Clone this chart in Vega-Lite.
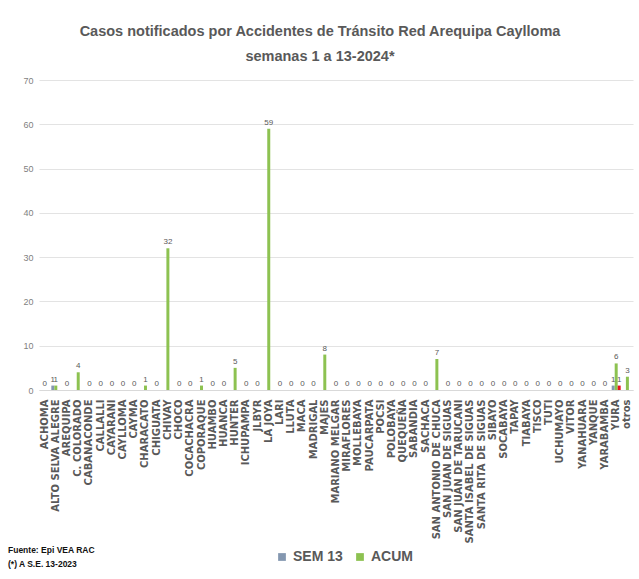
{
  "$schema": "https://vega.github.io/schema/vega-lite/v6.json",
  "description": "Casos notificados por Accidentes de Tránsito Red Arequipa Caylloma",
  "width": 594,
  "height": 310,
  "autosize": {"type": "none"},
  "padding": {"left": 39, "top": 80, "right": 6, "bottom": 189},
  "background": "white",
  "title": {
    "text": ["Casos notificados  por Accidentes de Tránsito Red Arequipa Caylloma", "semanas 1 a 13-2024*"],
    "anchor": "middle",
    "dx": -16,
    "offset": 12,
    "font": "Liberation Sans Narrow, Liberation Sans",
    "fontSize": 14.5,
    "fontWeight": "bold",
    "lineHeight": 25,
    "color": "#595959"
  },
  "data": {
    "values": [
      {"distrito": "ACHOMA", "SEM 13": 0, "ACUM": 0},
      {"distrito": "ALTO SELVA ALEGRE", "SEM 13": 1, "ACUM": 1},
      {"distrito": "AREQUIPA", "SEM 13": 0, "ACUM": 0},
      {"distrito": "C. COLORADO", "SEM 13": 0, "ACUM": 4},
      {"distrito": "CABANACONDE", "SEM 13": 0, "ACUM": 0},
      {"distrito": "CALLALLI", "SEM 13": 0, "ACUM": 0},
      {"distrito": "CAYARANI", "SEM 13": 0, "ACUM": 0},
      {"distrito": "CAYLLOMA", "SEM 13": 0, "ACUM": 0},
      {"distrito": "CAYMA", "SEM 13": 0, "ACUM": 0},
      {"distrito": "CHARACATO", "SEM 13": 0, "ACUM": 1},
      {"distrito": "CHIGUATA", "SEM 13": 0, "ACUM": 0},
      {"distrito": "CHIVAY", "SEM 13": 0, "ACUM": 32},
      {"distrito": "CHOCO", "SEM 13": 0, "ACUM": 0},
      {"distrito": "COCACHACRA", "SEM 13": 0, "ACUM": 0},
      {"distrito": "COPORAQUE", "SEM 13": 0, "ACUM": 1},
      {"distrito": "HUAMBO", "SEM 13": 0, "ACUM": 0},
      {"distrito": "HUANCA", "SEM 13": 0, "ACUM": 0},
      {"distrito": "HUNTER", "SEM 13": 0, "ACUM": 5},
      {"distrito": "ICHUPAMPA", "SEM 13": 0, "ACUM": 0},
      {"distrito": "JLBYR", "SEM 13": 0, "ACUM": 0},
      {"distrito": "LA JOYA", "SEM 13": 0, "ACUM": 59},
      {"distrito": "LARI", "SEM 13": 0, "ACUM": 0},
      {"distrito": "LLUTA", "SEM 13": 0, "ACUM": 0},
      {"distrito": "MACA", "SEM 13": 0, "ACUM": 0},
      {"distrito": "MADRIGAL", "SEM 13": 0, "ACUM": 0},
      {"distrito": "MAJES", "SEM 13": 0, "ACUM": 8},
      {"distrito": "MARIANO MELGAR", "SEM 13": 0, "ACUM": 0},
      {"distrito": "MIRAFLORES", "SEM 13": 0, "ACUM": 0},
      {"distrito": "MOLLEBAYA", "SEM 13": 0, "ACUM": 0},
      {"distrito": "PAUCARPATA", "SEM 13": 0, "ACUM": 0},
      {"distrito": "POCSI", "SEM 13": 0, "ACUM": 0},
      {"distrito": "POLOBAYA", "SEM 13": 0, "ACUM": 0},
      {"distrito": "QUEQUEÑA", "SEM 13": 0, "ACUM": 0},
      {"distrito": "SABANDIA", "SEM 13": 0, "ACUM": 0},
      {"distrito": "SACHACA", "SEM 13": 0, "ACUM": 0},
      {"distrito": "SAN ANTONIO DE CHUCA", "SEM 13": 0, "ACUM": 7},
      {"distrito": "SAN JUAN DE SIGUAS", "SEM 13": 0, "ACUM": 0},
      {"distrito": "SAN JUAN DE TARUCANI", "SEM 13": 0, "ACUM": 0},
      {"distrito": "SANTA ISABEL DE SIGUAS", "SEM 13": 0, "ACUM": 0},
      {"distrito": "SANTA RITA DE SIGUAS", "SEM 13": 0, "ACUM": 0},
      {"distrito": "SIBAYO", "SEM 13": 0, "ACUM": 0},
      {"distrito": "SOCABAYA", "SEM 13": 0, "ACUM": 0},
      {"distrito": "TAPAY", "SEM 13": 0, "ACUM": 0},
      {"distrito": "TIABAYA", "SEM 13": 0, "ACUM": 0},
      {"distrito": "TISCO", "SEM 13": 0, "ACUM": 0},
      {"distrito": "TUTI", "SEM 13": 0, "ACUM": 0},
      {"distrito": "UCHUMAYO", "SEM 13": 0, "ACUM": 0},
      {"distrito": "VITOR", "SEM 13": 0, "ACUM": 0},
      {"distrito": "YANAHUARA", "SEM 13": 0, "ACUM": 0},
      {"distrito": "YANQUE", "SEM 13": 0, "ACUM": 0},
      {"distrito": "YARABAMBA", "SEM 13": 0, "ACUM": 0},
      {"distrito": "YURA", "SEM 13": 1, "ACUM": 6, "OTRO": 1},
      {"distrito": "otros", "SEM 13": 0, "ACUM": 3}
    ]
  },
  "transform": [
    {"fold": ["SEM 13", "ACUM", "OTRO"], "as": ["serie", "casos"]},
    {"filter": "datum.casos != null"}
  ],
  "encoding": {
    "x": {
      "field": "distrito",
      "type": "nominal",
      "sort": null,
      "scale": {"paddingInner": 0.2, "paddingOuter": 0.1},
      "axis": {
        "title": null,
        "labelAngle": -90,
        "labelFont": "DejaVu Sans",
        "labelFontWeight": "bold",
        "labelFontSize": 10,
        "labelColor": "#595959",
        "labelPadding": 9,
        "ticks": false,
        "domainColor": "#d9d9d9",
        "labelOverlap": false
      }
    },
    "xOffset": {
      "field": "serie",
      "type": "nominal",
      "scale": {"domain": ["SEM 13", "ACUM", "OTRO"]}
    },
    "y": {
      "field": "casos",
      "type": "quantitative",
      "scale": {"domain": [0, 70]},
      "axis": {
        "title": null,
        "values": [0, 10, 20, 30, 40, 50, 60, 70],
        "domain": false,
        "ticks": false,
        "labelPadding": 6,
        "labelFont": "Liberation Sans Narrow, Liberation Sans",
        "labelFontSize": 9,
        "labelColor": "#7f7f7f",
        "gridColor": "#e3e3e3"
      }
    }
  },
  "layer": [
    {
      "mark": {"type": "bar"},
      "encoding": {
        "color": {
          "field": "serie",
          "type": "nominal",
          "scale": {
            "domain": ["SEM 13", "ACUM", "OTRO"],
            "range": ["#8497b0", "#8dc251", "#e8101a"]
          },
          "legend": {
            "values": ["SEM 13", "ACUM"],
            "orient": "none",
            "direction": "horizontal",
            "legendX": -31,
            "legendY": 470,
            "title": ["Fuente: Epi VEA RAC", "(*) A S.E. 13-2023"],
            "titleOrient": "left",
            "titleFont": "Liberation Sans Narrow, Liberation Sans",
            "titleFontSize": 8.5,
            "titleFontWeight": "bold",
            "titleColor": "#111111",
            "titlePadding": 180,
            "titleLineHeight": 14,
            "symbolType": "square",
            "symbolSize": 60,
            "symbolStrokeWidth": 0,
            "labelFont": "Liberation Sans Narrow, Liberation Sans",
            "labelFontSize": 14,
            "labelFontWeight": "bold",
            "labelColor": "#595959",
            "columnPadding": 10
          }
        }
      }
    },
    {
      "transform": [{"filter": "datum.serie == 'ACUM' || datum.casos > 0"}],
      "mark": {
        "type": "text",
        "dy": -6,
        "font": "Liberation Sans Narrow, Liberation Sans",
        "fontSize": 8,
        "color": "#595959"
      },
      "encoding": {
        "text": {"field": "casos", "type": "quantitative"}
      }
    }
  ],
  "config": {
    "view": {"stroke": null}
  }
}
